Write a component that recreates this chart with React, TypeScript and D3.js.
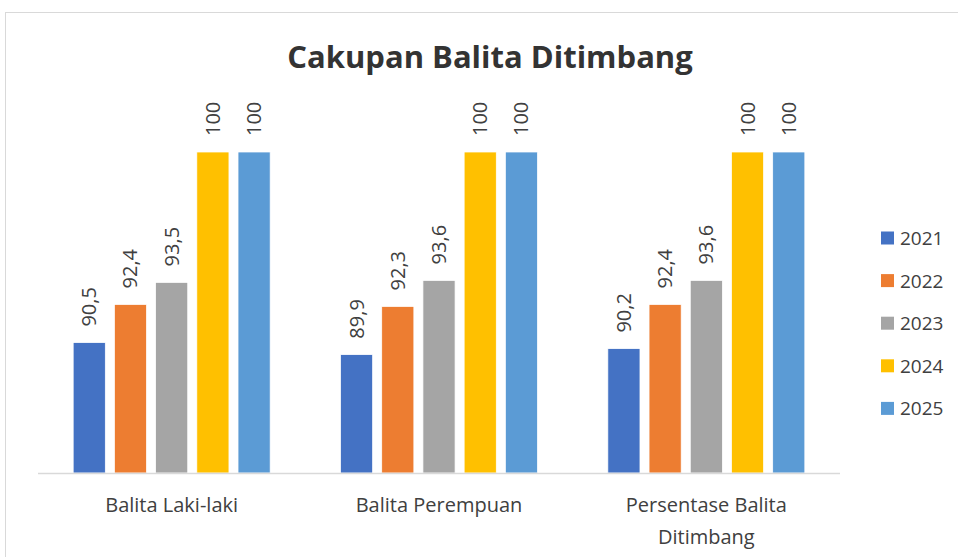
import React from "react";
import { scaleBand, scaleLinear } from "d3";

const categories: string[][] = [
  ["Balita Laki-laki"],
  ["Balita Perempuan"],
  ["Persentase Balita", "Ditimbang"],
];
const seriesNames = ["2021", "2022", "2023", "2024", "2025"];
const colors = ["#4472C4", "#ED7D31", "#A5A5A5", "#FFC000", "#5B9BD5"];
const values: number[][] = [
  [90.5, 89.9, 90.2],
  [92.4, 92.3, 92.4],
  [93.5, 93.6, 93.6],
  [100, 100, 100],
  [100, 100, 100],
];

const fontFamily = "'Open Sans', 'Noto Sans', sans-serif";

export default function App(): JSX.Element {
  const width = 958;
  const height = 557;
  const plot = { left: 38, right: 840, top: 120, bottom: 473 };
  const groupWidth = 197;

  const x0 = scaleBand<number>()
    .domain(categories.map((_, i) => i))
    .range([plot.left, plot.right]);
  const x1 = scaleBand<number>()
    .domain(seriesNames.map((_, i) => i))
    .range([0, groupWidth])
    .paddingInner(0.22);
  const groupOffset = (x0.bandwidth() - groupWidth) / 2;
  const y = scaleLinear().domain([84, 100]).range([plot.bottom, 152]);

  const fmt = (v: number) => String(v).replace(".", ",");

  return (
    <svg
      width={width}
      height={height}
      style={{ position: "absolute", left: 0, top: 0, background: "#fff" }}
      fontFamily={fontFamily}
    >
      <rect x={5.5} y={12.5} width={1000} height={600} fill="#fff" stroke="#D9D9D9" />
      <text x={490} y={68} textAnchor="middle" fontSize={31} fontWeight={700} fill="#333">
        Cakupan Balita Ditimbang
      </text>

      {values.map((series, si) =>
        series.map((v, ci) => {
          const bx = (x0(ci) ?? 0) + groupOffset + (x1(si) ?? 0);
          const bw = x1.bandwidth();
          const by = y(v);
          return (
            <g key={`b-${si}-${ci}`}>
              <rect
                x={bx}
                y={by}
                width={bw}
                height={plot.bottom - by}
                fill={colors[si]}
                stroke="#fff"
                strokeWidth={0.75}
              />
              <text
                transform={`translate(${bx + bw / 2 + 7},${by - 16}) rotate(-90)`}
                fontSize={20}
                fill="#404040"
              >
                {fmt(v)}
              </text>
            </g>
          );
        })
      )}

      <line
        x1={plot.left}
        x2={plot.right}
        y1={plot.bottom + 0.5}
        y2={plot.bottom + 0.5}
        stroke="#D9D9D9"
        strokeWidth={1.5}
      />

      {categories.map((lines, ci) => (
        <text
          key={`c-${ci}`}
          x={(x0(ci) ?? 0) + x0.bandwidth() / 2}
          y={512}
          textAnchor="middle"
          fontSize={20}
          fill="#404040"
        >
          {lines.map((l, li) => (
            <tspan key={li} x={(x0(ci) ?? 0) + x0.bandwidth() / 2} dy={li === 0 ? 0 : 32}>
              {l}
            </tspan>
          ))}
        </text>
      ))}

      {seriesNames.map((name, si) => {
        const cy = 238 + si * 42.6;
        return (
          <g key={`l-${si}`}>
            <rect x={881} y={cy - 6.5} width={13} height={13} fill={colors[si]} />
            <text x={900} y={cy + 7} fontSize={19} fill="#404040">
              {name}
            </text>
          </g>
        );
      })}
    </svg>
  );
}
